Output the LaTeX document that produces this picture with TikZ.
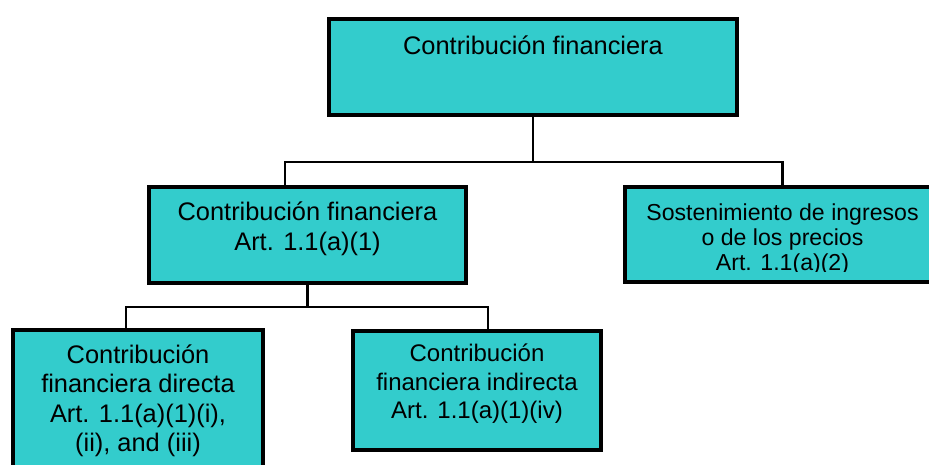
\documentclass[tikz,border=0pt]{standalone}
\usepackage{fontspec}
\setmainfont{Liberation Sans}
\definecolor{boxfill}{HTML}{33CCCC}
\tikzset{
  box/.style={draw=black, line width=4pt, fill=boxfill, inner sep=0pt, outer sep=0pt},
  conn/.style={draw=black, line width=2.5pt},
  lbl/.style={anchor=north, align=center, inner sep=0pt, text=black,
    execute at begin node={\rule{0pt}{0.8em}}},
}
\begin{document}
\begin{tikzpicture}[x=1pt,y=-1pt]
\useasboundingbox (0,0) rectangle (929,465);
\fill[white] (0,0) rectangle (929,465);
\clip (0,0) rectangle (929,465);

% boxes
\node[box, minimum width=408pt, minimum height=96pt] (top) at (533,67) {};
\node[box, minimum width=317pt, minimum height=96pt] (fin) at (307.5,235) {};
\node[box, minimum width=315pt, minimum height=95pt] (sost) at (782.5,234.5) {};
\node[box, minimum width=250pt, minimum height=150pt] (dir) at (138,405) {};
\node[box, minimum width=248pt, minimum height=119pt] (ind) at (477,390.5) {};

% connectors
\coordinate (bus1) at (533,162);
\coordinate (bus2) at (307.5,307);
\draw[conn] (top.south) -- (bus1);
\draw[conn] ([xshift=-22.5pt]fin.north) |- (bus1) -| (sost.north);
\draw[conn] (fin.south) -- (bus2);
\draw[conn] ([xshift=-12pt]dir.north) |- (bus2) -| ([xshift=11pt]ind.north);

% texts
\node[lbl, font=\fontsize{25.4}{30}\selectfont] (topT) at (533,33.7) {Contribución financiera};
\node[lbl, font=\fontsize{25.4}{30}\selectfont] (finT) at (307.5,201.7) {Contribución financiera\\Art. 1.1(a)(1)};
\begin{scope}
  \clip (625,190) rectangle (929,271);
  \node[lbl, font=\fontsize{23.1}{25}\selectfont] (sostT) at (782.5,203.5) {Sostenimiento de ingresos\\o de los precios\\Art. 1.1(a)(2)};
\end{scope}
\node[lbl, font=\fontsize{25.4}{29.3}\selectfont] (dirT) at (138,344.7) {Contribución\\financiera directa\\Art. 1.1(a)(1)(i),\\(ii), and (iii)};
\node[lbl, font=\fontsize{24}{28.5}\selectfont] (indT) at (477,343.8) {Contribución\\financiera indirecta\\Art. 1.1(a)(1)(iv)};
\end{tikzpicture}
\end{document}
